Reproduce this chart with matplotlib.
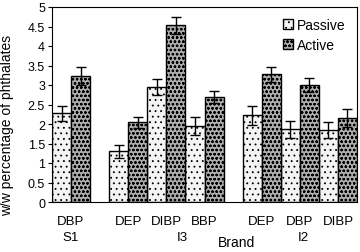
import matplotlib.pyplot as plt

plt.rcParams['font.family'] = ['Liberation Sans', 'DejaVu Sans']
plt.rcParams['hatch.linewidth'] = 0.6

# categories (compound, brand) and measured values
compounds = ["DBP", "DEP", "DIBP", "BBP", "DEP", "DBP", "DIBP"]
brands = ["S1", "I3", "I2"]
brand_pos = [0, 2.91, 6.08]
positions = [0, 1.5, 2.5, 3.5, 5, 6, 7]
passive = [2.27, 1.30, 2.95, 1.94, 2.22, 1.86, 1.84]
passive_err = [0.20, 0.17, 0.21, 0.23, 0.24, 0.22, 0.21]
active = [3.22, 2.04, 4.53, 2.70, 3.27, 3.00, 2.16]
active_err = [0.23, 0.15, 0.22, 0.15, 0.20, 0.19, 0.23]

fig = plt.figure(figsize=(3.6, 2.53), dpi=100)
ax = fig.add_axes([52/360, 1 - 203/253, 305/360, 195/253])

w = 0.5
xp = [p - w/2 for p in positions]
xa = [p + w/2 for p in positions]
ax.bar(xp, passive, w, yerr=passive_err, color='#f4f4f4', edgecolor='black',
       hatch='...', linewidth=1, capsize=3.5, error_kw=dict(elinewidth=1, capthick=1),
       label='Passive')
ax.bar(xa, active, w, yerr=active_err, color='#adadad', edgecolor='black',
       hatch='oooo', linewidth=1, capsize=3.5, error_kw=dict(elinewidth=1, capthick=1),
       label='Active')

ax.set_xlim(-0.5, 7.5)
ax.set_ylim(0, 5)
ax.set_yticks([0, 0.5, 1, 1.5, 2, 2.5, 3, 3.5, 4, 4.5, 5])
ax.set_yticklabels(['0', '0.5', '1', '1.5', '2', '2.5', '3', '3.5', '4', '4.5', '5'])
ax.tick_params(axis='y', labelsize=9, length=3, direction='out', pad=2)
ax.set_xticks(positions)
ax.set_xticklabels(compounds)
ax.tick_params(axis='x', labelsize=9.5, length=0, pad=9.5)
ax.set_ylabel('w/w percentage of phthalates', fontsize=10)
ax.yaxis.set_label_coords(-0.125, 0.40)

# brand labels on a second row
tr = ax.get_xaxis_transform()
for b, x in zip(brands, brand_pos):
    ax.text(x, -0.177, b, transform=tr, ha='center', va='center', fontsize=9.5)
ax.text(4.33, -0.205, 'Brand', transform=tr, ha='center', va='center', fontsize=10)

ax.legend(loc='upper right', frameon=False, fontsize=10, handlelength=0.7,
          handleheight=0.7, handletextpad=0.3, labelspacing=0.4,
          borderaxespad=0.4)

plt.savefig('out.png', dpi=100)
